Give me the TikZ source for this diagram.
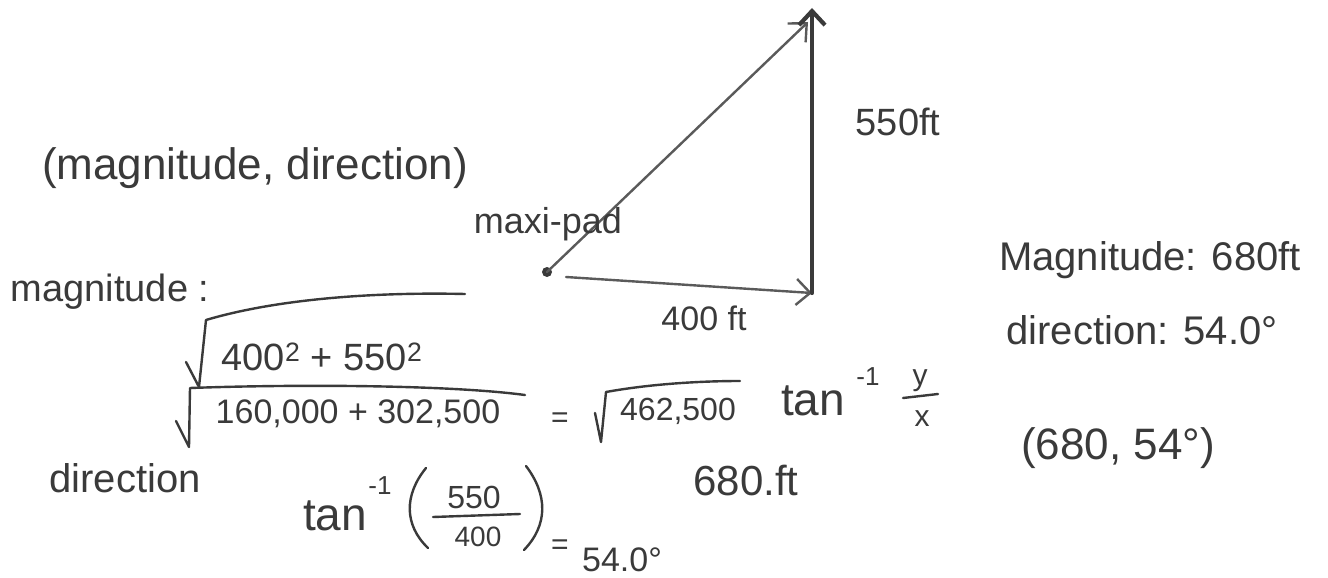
\documentclass[tikz,border=0pt]{standalone}
\usepackage{fontspec}
\setmainfont{Liberation Sans}
\usetikzlibrary{arrows.meta}
\definecolor{ink}{HTML}{3A3A3A}
\definecolor{pencil}{HTML}{5A5A5A}
\begin{document}
\begin{tikzpicture}[x=1pt,y=-1pt,
  hw/.style={text=ink, inner sep=0pt, font=\fontsize{40}{44}\selectfont},
  fs/.style={font=\fontsize{#1}{#1}\selectfont},
  pen/.style={draw=ink, line width=2.4pt, line cap=round, line join=round},
  vec/.style={pen, draw=pencil, -{Straight Barb[length=14pt,width=26pt]}},
]
\useasboundingbox (0,0) rectangle (1328,578);
\fill[white] (0,0) rectangle (1328,578);

% ---- vector triangle ----
\coordinate (O) at (547,272);
\coordinate (H0) at (566,277);
\coordinate (C) at (812,293);
\coordinate (T) at (812,8);
\coordinate (D) at (808,22);
\fill[ink] (O) circle (5pt);
\draw[vec] (O) -- (D);
\draw[vec] (H0) -- (C);
\draw[vec, draw=ink, line width=4.2pt] (C) -- (T);

\node[hw, fs=38] (l550) at (898,122) {550ft};
\node[hw, fs=34] (l400) at (704,318) {400 ft};
\node[hw, fs=36] (maxi) at (548,224) {maxi-pad};

% ---- left texts ----
\node[hw, fs=44] (title) at (255,168) {(magnitude, direction)};
\node[hw, fs=38] (magl) at (110,292) {magnitude :};
\node[hw, fs=40] (dirl) at (125,478) {direction};

% radical 1
\node[hw, fs=38] (r1) at (322,357) {400\textsuperscript{2} + 550\textsuperscript{2}};
\draw[pen] (186,362) -- (199,387) -- (206,320) .. controls (280,298) and (380,292) .. (465,294);
% radical 2
\node[hw, fs=34] (r2) at (358,414) {160,000 + 302,500};
\draw[pen] (176,421) -- (189,447) -- (190,388) .. controls (300,384) and (450,385) .. (525,395);
% = sqrt 462,500
\node[hw, fs=30] (eq1) at (560,420) {=};
\node[hw, fs=32] (r3) at (678,411) {462,500};
\draw[pen] (595,413) -- (601,442) -- (606,392) .. controls (650,384) and (700,381) .. (740,381);

% tan^-1 y/x
\node[hw, fs=46, anchor=west] (tanA) at (781,401) {tan};
\node[hw, fs=26] (tanAe) at (868,377) {-1};
\node[hw, fs=30] (fy) at (920,381) {y};
\node[hw, fs=30] (fx) at (922,419) {x};
\draw[pen] (903,398) -- (938,394);

% tan^-1 (550/400)
\node[hw, fs=46] (tanB) at (335,516) {tan};
\node[hw, fs=26] (tanBe) at (380,486) {-1};
\draw[pen] (426,468) .. controls (404,495) and (404,525) .. (428,548);
\draw[pen] (526,466) .. controls (548,495) and (548,525) .. (524,550);
\node[hw, fs=32] (n550) at (474,497) {550};
\draw[pen] (433,517) -- (520,514);
\node[hw, fs=28] (d400) at (478,537) {400};
\node[hw, fs=30] (eq2) at (560,547) {=};
\node[hw, fs=34] (ang) at (622,560) {54.0°};

\node[hw, fs=42] (r680) at (746,481) {680.ft};

% ---- right column ----
\node[hw, fs=40] (rmag) at (1150,260) {Magnitude: 680ft};
\node[hw, fs=40] (rdir) at (1142,330) {direction: 54.0°};
\node[hw, fs=44] (res) at (1118,448) {(680, 54°)};
\end{tikzpicture}
\end{document}
